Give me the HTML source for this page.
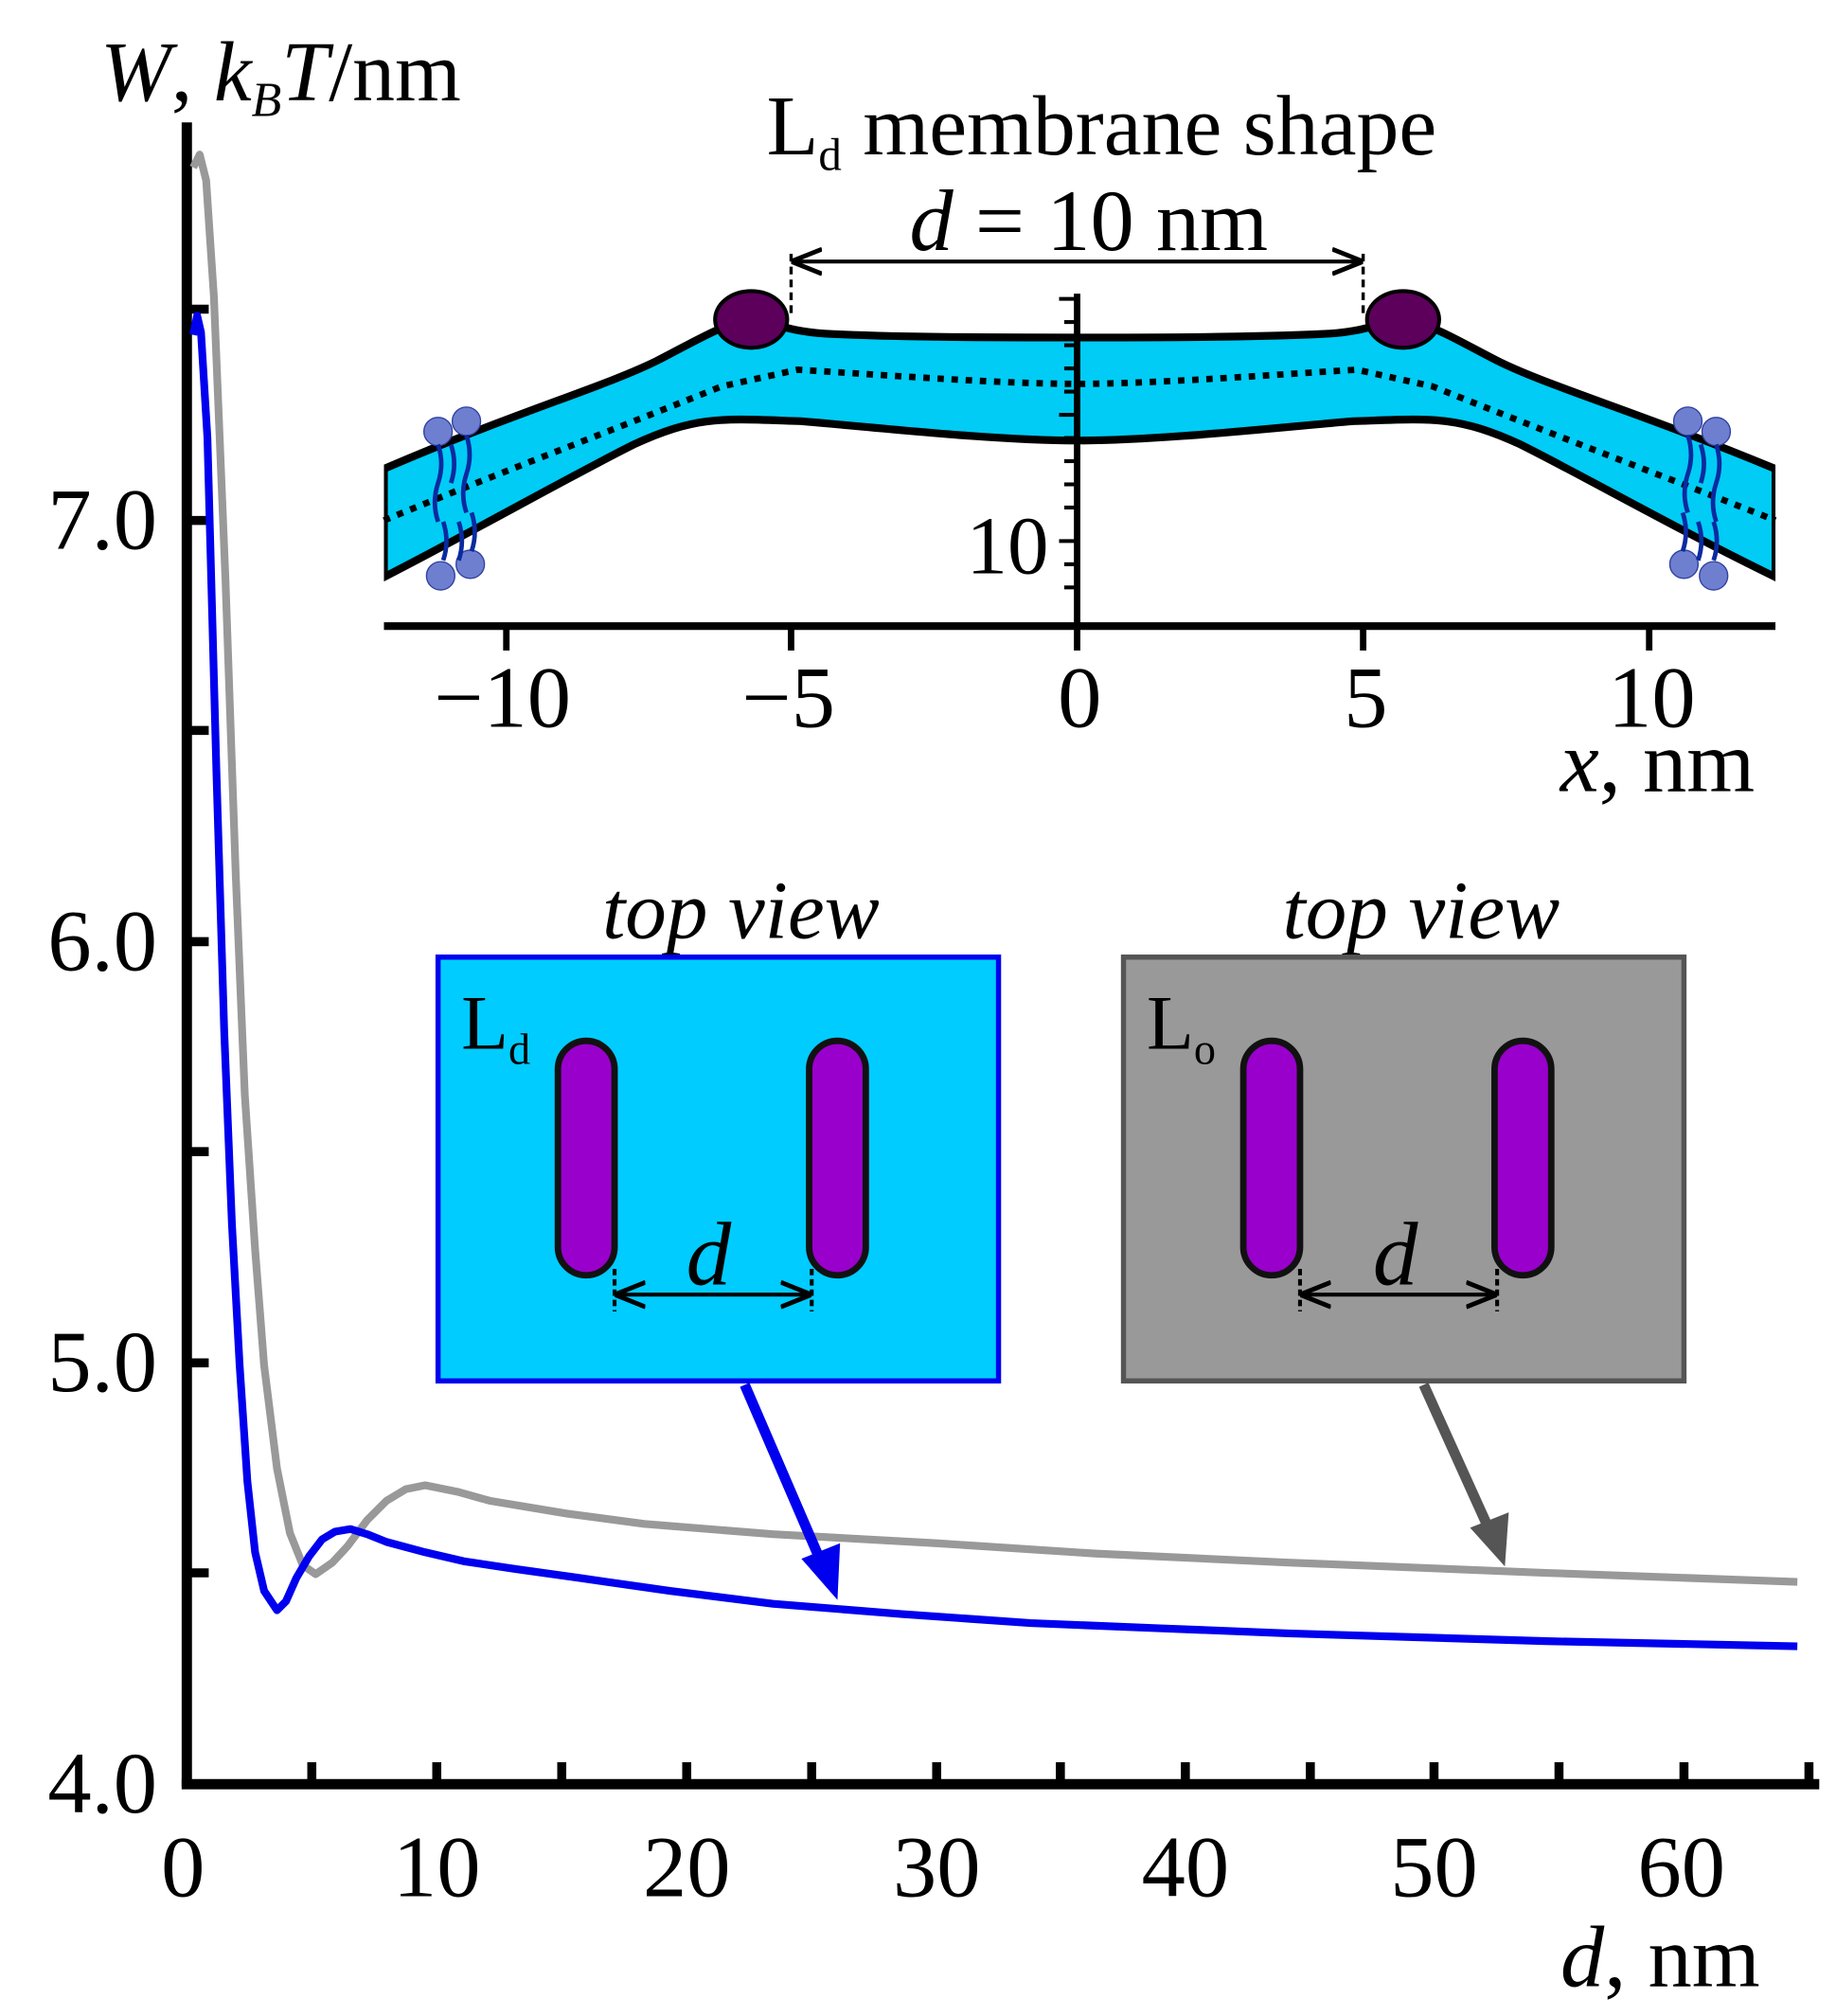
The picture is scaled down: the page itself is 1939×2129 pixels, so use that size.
<!DOCTYPE html>
<html><head><meta charset="utf-8"><style>
html,body{margin:0;padding:0;background:#fff}
svg{display:block}
text{font-family:"Liberation Serif",serif;fill:#000}
</style></head><body>
<svg width="1939" height="2129" viewBox="0 0 1425 1565" preserveAspectRatio="none" xmlns="http://www.w3.org/2000/svg">
<defs>
<marker id="ah" viewBox="0 0 10 10" refX="10" refY="5" markerWidth="8" markerHeight="8" orient="auto-start-reverse"><path d="M0,1 L10,5 L0,9" fill="none" stroke="#000" stroke-width="1.5"/></marker>
</defs>
<line x1="145" y1="95" x2="145" y2="1387" stroke="#000" stroke-width="8"/>
<line x1="141" y1="1385" x2="1412" y2="1385" stroke="#000" stroke-width="8"/>
<g stroke="#000" stroke-width="7">
<line x1="145" y1="1221" x2="162" y2="1221"/><line x1="145" y1="1058" x2="162" y2="1058"/>
<line x1="145" y1="894" x2="162" y2="894"/><line x1="145" y1="731" x2="162" y2="731"/>
<line x1="145" y1="567" x2="162" y2="567"/><line x1="145" y1="404" x2="162" y2="404"/>
<line x1="145" y1="240" x2="162" y2="240"/>
<line x1="242" y1="1385" x2="242" y2="1368"/><line x1="339" y1="1385" x2="339" y2="1368"/>
<line x1="436" y1="1385" x2="436" y2="1368"/><line x1="533" y1="1385" x2="533" y2="1368"/>
<line x1="630" y1="1385" x2="630" y2="1368"/><line x1="727" y1="1385" x2="727" y2="1368"/>
<line x1="823" y1="1385" x2="823" y2="1368"/><line x1="920" y1="1385" x2="920" y2="1368"/>
<line x1="1017" y1="1385" x2="1017" y2="1368"/><line x1="1113" y1="1385" x2="1113" y2="1368"/>
<line x1="1210" y1="1385" x2="1210" y2="1368"/><line x1="1307" y1="1385" x2="1307" y2="1368"/>
<line x1="1404" y1="1385" x2="1404" y2="1368"/>
</g>
<g font-size="68" text-anchor="end">
<text x="122" y="1407">4.0</text><text x="122" y="1080">5.0</text><text x="122" y="753">6.0</text><text x="122" y="426">7.0</text>
</g>
<g font-size="68" text-anchor="middle">
<text x="142" y="1472">0</text><text x="339" y="1472">10</text><text x="533" y="1472">20</text><text x="727" y="1472">30</text><text x="920" y="1472">40</text><text x="1113" y="1472">50</text><text x="1305" y="1472">60</text>
</g>
<text x="1366" y="1542" font-size="68" text-anchor="end"><tspan font-style="italic">d</tspan>, nm</text>
<text x="78" y="78" font-size="66"><tspan font-style="italic">W</tspan>, <tspan font-style="italic">k</tspan><tspan font-style="italic" font-size="38" dy="12">B</tspan><tspan font-style="italic" dy="-12">T</tspan>/nm</text>
<polyline fill="none" stroke="#999" stroke-width="6" stroke-linejoin="round" points="150,130 155,120 160,140 166,230 175,450 183,680 190,850 198,970 205,1060 215,1140 225,1190 235,1215 245,1222 258,1213 270,1200 285,1180 300,1165 315,1156 330,1153 355,1158 380,1165 440,1175 500,1183 600,1191 727,1198 850,1206 1000,1213 1200,1221 1395,1228"/>
<polyline fill="none" stroke="#0000ee" stroke-width="6" stroke-linejoin="round" points="150,260 153,245 156,258 161,340 168,600 174,800 180,950 186,1060 192,1150 198,1205 205,1235 215,1250 222,1243 230,1225 240,1208 250,1195 260,1189 272,1187 285,1191 300,1197 330,1205 360,1212 400,1218 450,1225 520,1235 600,1245 700,1253 800,1260 900,1264 1000,1268 1200,1274 1395,1278"/>
<path d="M298,364 C400,320 470,300 510,280 C545,262 560,252 583,248 C600,250 610,257 640,259 C700,262 780,262 836,262 C892,262 972,262 1032,259 C1062,257 1072,250 1089,248 C1112,252 1127,262 1162,280 C1202,300 1272,320 1378,364 L1378,448 C1300,410 1230,370 1180,345 C1130,322 1110,325 1050,327 C990,332 900,342 836,342 C772,342 682,332 622,327 C562,325 542,322 492,345 C442,370 372,410 298,448 Z" fill="#00ccf5" stroke="#000" stroke-width="6"/>
<rect x="290" y="360" width="8" height="95" fill="#fff"/><rect x="1378" y="360" width="8" height="95" fill="#fff"/>
<path d="M298,404 C380,370 460,340 560,300 L619,287 C700,292 780,298 836,298 C892,298 972,292 1053,287 L1112,300 C1212,340 1292,370 1378,404" fill="none" stroke="#000" stroke-width="5" stroke-dasharray="5,6"/>
<ellipse cx="583" cy="248" rx="28" ry="22" fill="#5c005c" stroke="#000" stroke-width="3"/>
<ellipse cx="1089" cy="248" rx="28" ry="22" fill="#5c005c" stroke="#000" stroke-width="3"/>
<g fill="#6f7fd0" stroke="#3040a0" stroke-width="1">
<circle cx="340" cy="335" r="11"/><circle cx="362" cy="327" r="11"/><circle cx="342" cy="447" r="11"/><circle cx="365" cy="438" r="11"/>
<circle cx="1310" cy="327" r="11"/><circle cx="1332" cy="335" r="11"/><circle cx="1307" cy="438" r="11"/><circle cx="1330" cy="447" r="11"/>
</g>
<g stroke="#0a2aa0" stroke-width="3.5" fill="none">
<path d="M340,345 q5,15 0,30 q-5,15 0,30 M350,345 q5,15 0,30 M362,338 q5,15 0,30 q-5,15 0,30 M344,435 q5,-15 0,-30 M356,435 q5,-15 0,-30 M366,428 q5,-15 0,-30"/>
<path d="M1310,338 q5,15 0,30 q-5,15 0,30 M1320,345 q5,15 0,30 M1332,345 q5,15 0,30 q-5,15 0,30 M1306,428 q5,-15 0,-30 M1318,435 q5,-15 0,-30 M1330,435 q5,-15 0,-30"/>
</g>
<line x1="298" y1="486" x2="1378" y2="486" stroke="#000" stroke-width="6"/>
<g stroke="#000" stroke-width="5">
<line x1="393" y1="486" x2="393" y2="505"/><line x1="614" y1="486" x2="614" y2="505"/><line x1="836" y1="486" x2="836" y2="505"/><line x1="1058" y1="486" x2="1058" y2="505"/><line x1="1280" y1="486" x2="1280" y2="505"/>
<line x1="836" y1="228" x2="836" y2="486"/>
</g>
<g stroke="#000" stroke-width="3">
<line x1="822" y1="232" x2="836" y2="232"/><line x1="826" y1="250" x2="836" y2="250"/><line x1="826" y1="268" x2="836" y2="268"/><line x1="826" y1="286" x2="836" y2="286"/><line x1="826" y1="304" x2="836" y2="304"/><line x1="822" y1="322" x2="836" y2="322"/><line x1="826" y1="340" x2="836" y2="340"/><line x1="826" y1="358" x2="836" y2="358"/><line x1="826" y1="376" x2="836" y2="376"/><line x1="826" y1="394" x2="836" y2="394"/><line x1="822" y1="420" x2="836" y2="420"/><line x1="826" y1="438" x2="836" y2="438"/><line x1="826" y1="456" x2="836" y2="456"/>
</g>
<text x="814" y="445" font-size="64" text-anchor="end">10</text>
<g font-size="68" text-anchor="middle">
<text x="390" y="564">−10</text><text x="612" y="564">−5</text><text x="838" y="564">0</text><text x="1060" y="564">5</text><text x="1282" y="564">10</text>
</g>
<text x="1362" y="614" font-size="68" text-anchor="end"><tspan font-style="italic">x</tspan>, nm</text>
<text x="855" y="120" font-size="66" text-anchor="middle">L<tspan font-size="36" dy="12">d</tspan><tspan dy="-12"> membrane shape</tspan></text>
<text x="845" y="194" font-size="68" text-anchor="middle"><tspan font-style="italic">d</tspan> = 10 nm</text>
<line x1="614" y1="203" x2="1058" y2="203" stroke="#000" stroke-width="3" marker-start="url(#ah)" marker-end="url(#ah)"/>
<line x1="614" y1="197" x2="614" y2="245" stroke="#000" stroke-width="2.5" stroke-dasharray="6,4"/>
<line x1="1058" y1="197" x2="1058" y2="245" stroke="#000" stroke-width="2.5" stroke-dasharray="6,4"/>
<text x="575" y="728" font-size="64" font-style="italic" text-anchor="middle">top view</text>
<text x="1103" y="728" font-size="64" font-style="italic" text-anchor="middle">top view</text>
<rect x="340" y="743" width="435" height="329" fill="#00ccff" stroke="#0000ee" stroke-width="4"/>
<rect x="872" y="743" width="435" height="329" fill="#999" stroke="#555" stroke-width="4"/>
<text x="358" y="814" font-size="60">L<tspan font-size="34" dy="12">d</tspan></text>
<text x="890" y="814" font-size="60">L<tspan font-size="34" dy="12">o</tspan></text>
<g fill="#9900cc" stroke="#111" stroke-width="5">
<rect x="433" y="808" width="44" height="182" rx="22"/><rect x="628" y="808" width="44" height="182" rx="22"/>
<rect x="965" y="808" width="44" height="182" rx="22"/><rect x="1160" y="808" width="44" height="182" rx="22"/>
</g>
<text x="550" y="997" font-size="70" font-style="italic" text-anchor="middle">d</text>
<text x="1083" y="997" font-size="70" font-style="italic" text-anchor="middle">d</text>
<g stroke="#000" stroke-width="3">
<line x1="477" y1="1005" x2="630" y2="1005" marker-start="url(#ah)" marker-end="url(#ah)"/>
<line x1="477" y1="985" x2="477" y2="1018" stroke-dasharray="5,3"/><line x1="630" y1="985" x2="630" y2="1018" stroke-dasharray="5,3"/>
<line x1="1009" y1="1005" x2="1162" y2="1005" marker-start="url(#ah)" marker-end="url(#ah)"/>
<line x1="1009" y1="985" x2="1009" y2="1018" stroke-dasharray="5,3"/><line x1="1162" y1="985" x2="1162" y2="1018" stroke-dasharray="5,3"/>
</g>
<line x1="578" y1="1075" x2="637" y2="1212" stroke="#0000ee" stroke-width="8"/>
<polygon points="650,1242 622,1210 652,1198" fill="#0000ee"/>
<line x1="1105" y1="1075" x2="1157" y2="1190" stroke="#555" stroke-width="8"/>
<polygon points="1168,1216 1141,1186 1171,1174" fill="#555"/>
</svg>
</body></html>
